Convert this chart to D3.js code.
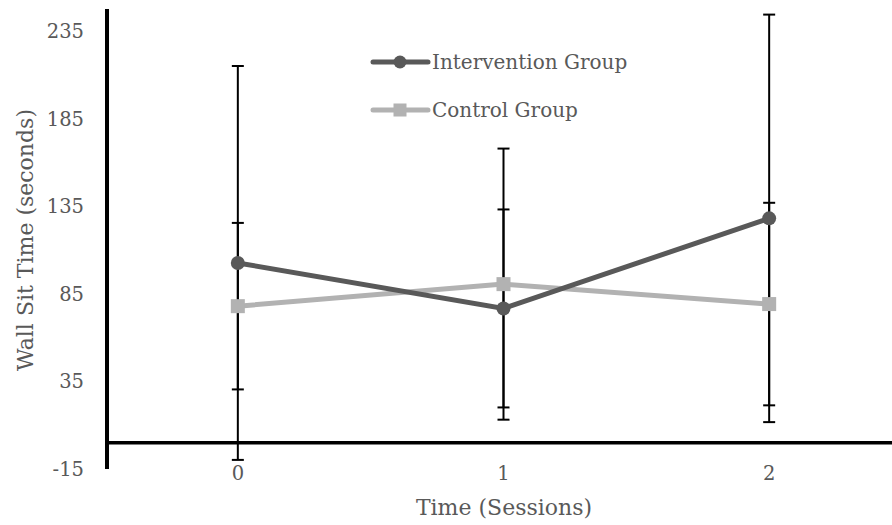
<!DOCTYPE html>
<html>
<head>
<meta charset="utf-8">
<script src="https://cdn.jsdelivr.net/npm/d3@7"></script>
<style>
  html, body { margin: 0; padding: 0; background: #fff; }
  svg { display: block; }
  text { font-family: "DejaVu Serif", serif; fill: #595959; }
</style>
</head>
<body>
<svg id="chart" width="892" height="525"></svg>
<script>
// Sessions on the x axis
const sessions = [0, 1, 2];
// Mean wall sit time (seconds) per session
const intervention = [102.8, 76.8, 128.3];
const control = [78.1, 90.7, 79.3];
// Standard deviations (error bar half-lengths)
const interventionSD = [112.6, 56.6, 116.5];
const controlSD = [47.6, 77.5, 57.9];
// Y axis tick values
const yTicks = [-15, 35, 85, 135, 185, 235];
const seriesNames = ["Intervention Group", "Control Group"];
const seriesColors = ["#595959", "#b2b2b2"];

const svg = d3.select("#chart");

const x = d3.scaleBand().domain(sessions).range([105, 902]).paddingInner(0).paddingOuter(0);
const y = d3.scaleLinear().domain([-15, 248]).range([469, 9]);
const cx = d => x(d) + x.bandwidth() / 2;

// Y axis: thick vertical line with labels only
const yAxis = d3.axisLeft(y).tickValues(yTicks).tickSize(0).tickPadding(23)
  .tickFormat(d => String(d));
const gy = svg.append("g").attr("transform", "translate(107,0)").call(yAxis);
gy.select(".domain").remove();
gy.selectAll("text").style("font-family", "DejaVu Serif, serif").style("font-size", "19.5px").attr("fill", "#595959");
svg.append("line")
  .attr("x1", 107).attr("x2", 107)
  .attr("y1", y(248)).attr("y2", y(-15))
  .attr("stroke", "#000").attr("stroke-width", 4);

// X axis crosses at zero
const xAxis = d3.axisBottom(x).tickSize(0).tickPadding(0);
const gx = svg.append("g").attr("transform", "translate(0,466)").call(xAxis);
gx.select(".domain").remove();
gx.selectAll("text").style("font-family", "DejaVu Serif, serif").style("font-size", "19.5px").attr("fill", "#595959");
svg.append("line")
  .attr("x1", 105).attr("x2", 892)
  .attr("y1", y(0)).attr("y2", y(0))
  .attr("stroke", "#000").attr("stroke-width", 3.5);

// Axis titles
svg.append("text")
  .attr("x", 504).attr("y", 515)
  .attr("text-anchor", "middle")
  .style("font-size", "22px")
  .text("Time (Sessions)");
svg.append("text")
  .attr("transform", "translate(33,240) rotate(-90)")
  .attr("text-anchor", "middle")
  .style("font-size", "22px")
  .text("Wall Sit Time (seconds)");

// Error bars
const capW = 12;
function errorBars(means, sds) {
  const g = svg.append("g").attr("stroke", "#000").attr("stroke-width", 2);
  sessions.forEach((s, i) => {
    const hi = means[i] + sds[i], lo = means[i] - sds[i];
    g.append("line").attr("x1", cx(s)).attr("x2", cx(s)).attr("y1", y(hi)).attr("y2", y(lo));
    [hi, lo].forEach(v => {
      g.append("line")
        .attr("x1", cx(s) - capW / 2).attr("x2", cx(s) + capW / 2)
        .attr("y1", y(v)).attr("y2", y(v));
    });
  });
}
errorBars(intervention, interventionSD);
errorBars(control, controlSD);

// Series lines and markers
const line = d3.line().x((d, i) => cx(sessions[i])).y(d => y(d));

svg.append("path").datum(control)
  .attr("d", line).attr("fill", "none")
  .attr("stroke", seriesColors[1]).attr("stroke-width", 5);
svg.selectAll(".ctl").data(control).enter().append("rect")
  .attr("x", (d, i) => cx(sessions[i]) - 7).attr("y", d => y(d) - 7)
  .attr("width", 14).attr("height", 14)
  .attr("fill", seriesColors[1]);

svg.append("path").datum(intervention)
  .attr("d", line).attr("fill", "none")
  .attr("stroke", seriesColors[0]).attr("stroke-width", 5);
svg.selectAll(".int").data(intervention).enter().append("circle")
  .attr("cx", (d, i) => cx(sessions[i])).attr("cy", d => y(d))
  .attr("r", 7).attr("fill", seriesColors[0]);

// Legend
const legend = svg.append("g");
seriesNames.forEach((name, i) => {
  const ly = 62 + i * 48;
  legend.append("line")
    .attr("x1", 373).attr("x2", 428).attr("y1", ly).attr("y2", ly)
    .attr("stroke", seriesColors[i]).attr("stroke-width", 5).attr("stroke-linecap", "round");
  if (i === 0) {
    legend.append("circle").attr("cx", 400).attr("cy", ly).attr("r", 6.5).attr("fill", seriesColors[i]);
  } else {
    legend.append("rect").attr("x", 393.5).attr("y", ly - 6.5).attr("width", 13).attr("height", 13).attr("fill", seriesColors[i]);
  }
  legend.append("text")
    .attr("x", 432).attr("y", ly + 7)
    .style("font-size", "20px")
    .text(name);
});
</script>
</body>
</html>
